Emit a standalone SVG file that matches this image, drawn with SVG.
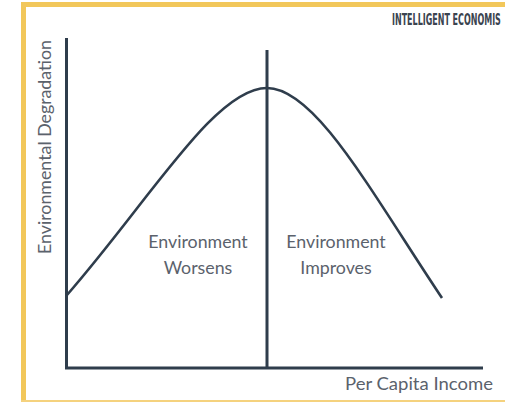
<svg xmlns="http://www.w3.org/2000/svg" width="505" height="402" viewBox="0 0 505 402">
<style>
.lbl{font-family:Lato,"Open Sans","Liberation Sans",sans-serif;font-size:17.8px;fill:#5b626c;}
.ax{stroke:#2f3d4c;stroke-width:3;fill:none;}
.cv{stroke:#2f3d4c;stroke-width:2.6;fill:none;}
</style>
<rect x="0" y="0" width="505" height="402" fill="#ffffff"/>
<path d="M23.5,402 V4.5 H505" fill="none" stroke="#f2c75a" stroke-width="5"/>
<rect x="21" y="400" width="484" height="2" fill="#f5d27e"/>
<g id="brand"><text transform="translate(392,25) scale(0.5,1)" x="0" y="0" font-family="'DejaVu Sans',sans-serif" font-weight="bold" font-size="16" fill="#3b4450">INTELLIGENT ECONOMIS</text></g>
<g id="axes">
<path class="ax" d="M66.5,38 V368 H483"/>
</g>
<g id="connectors">
<path class="ax" d="M267,50 V368"/>
<path class="cv" d="M67,295 C150,200 215,88 267,88 C315,88 370,190 442,298"/>
</g>
<g id="y-label"><text class="lbl" transform="translate(51,147) rotate(-90)" text-anchor="middle">Environmental Degradation</text></g>
<g id="x-label"><text class="lbl" x="493" y="390" text-anchor="end" textLength="148" lengthAdjust="spacingAndGlyphs">Per Capita Income</text></g>
<g id="worsens"><text class="lbl" x="198" y="248" text-anchor="middle">Environment</text><text class="lbl" x="198" y="274" text-anchor="middle">Worsens</text></g>
<g id="improves"><text class="lbl" x="336" y="248" text-anchor="middle">Environment</text><text class="lbl" x="336" y="274" text-anchor="middle">Improves</text></g>
</svg>
